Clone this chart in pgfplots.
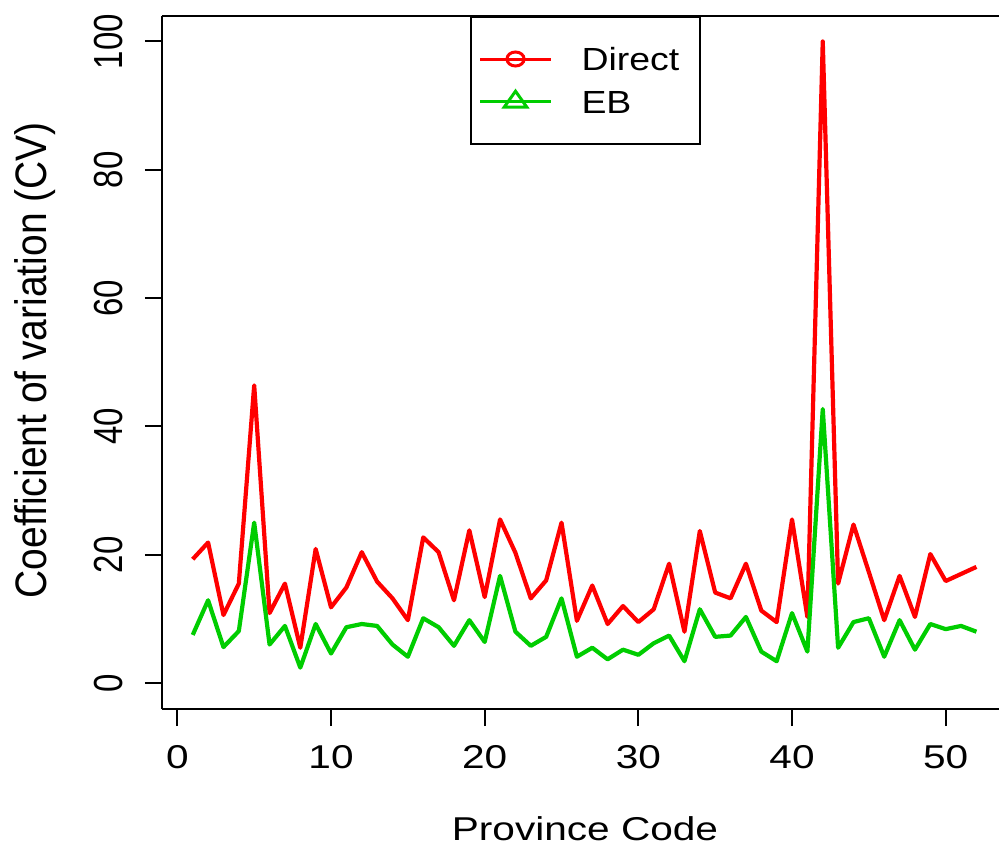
\documentclass[border=0pt]{standalone}
\usepackage{fontspec}
\setmainfont{Liberation Sans}
\usepackage{graphicx}
\usepackage{pgfplots}
\pgfplotsset{compat=1.18}
\usepackage{pgfplotstable}
\definecolor{rred}{RGB}{255,0,0}
\definecolor{rgreen}{RGB}{0,205,0}
\newcommand\f{\fontsize{16.5}{20}\selectfont}
\newcommand\fy{\fontsize{19.5}{23}\selectfont}
\newcommand\fl{\fontsize{16}{19}\selectfont}
\pgfplotstableread{
x direct eb
1 19.3 7.5
2 21.9 12.9
3 10.6 5.6
4 15.5 8.1
5 46.4 25.0
6 10.9 6.0
7 15.5 8.9
8 5.5 2.4
9 20.9 9.2
10 11.8 4.6
11 14.9 8.7
12 20.4 9.2
13 15.8 8.9
14 13.2 6.0
15 9.8 4.1
16 22.7 10.1
17 20.4 8.7
18 12.9 5.8
19 23.8 9.8
20 13.4 6.4
21 25.5 16.7
22 20.3 8.0
23 13.2 5.8
24 16.0 7.2
25 25.0 13.2
26 9.7 4.1
27 15.2 5.5
28 9.2 3.7
29 12.0 5.2
30 9.5 4.4
31 11.5 6.2
32 18.6 7.4
33 8.0 3.4
34 23.7 11.5
35 14.1 7.2
36 13.2 7.4
37 18.6 10.3
38 11.3 4.9
39 9.5 3.4
40 25.5 10.9
41 10.3 4.9
42 100.0 42.7
43 15.5 5.5
44 24.7 9.5
45 17.3 10.1
46 9.8 4.1
47 16.7 9.8
48 10.3 5.2
49 20.1 9.2
50 15.9 8.4
51 17.0 8.9
52 18.1 8.0
}\cvdata
\begin{document}
\begin{tikzpicture}
\begin{axis}[
  name=ax,
  scale only axis,
  width=418.5pt, height=346.75pt,
  xmin=-1.0, xmax=53.47, ymin=-4.05, ymax=104.05,
  axis x line=box, axis y line=left,
  axis line style={-, line width=1pt, black},
  xtick={0,10,...,50}, ytick={0,20,...,100},
  xtick pos=left, ytick pos=left,
  xticklabel pos=left, yticklabel pos=left,
  tick align=outside,
  major tick length=8.5pt,
  tick style={line width=1pt, black},
  /pgf/number format/assume math mode=true,
  tick label style={font=\f},
  xticklabel style={xscale=1.23},
  yticklabel style={rotate=90, anchor=south, yscale=1.23},
  xticklabel shift=6pt,
  yticklabel shift=6.5pt,
  xlabel={Province Code},
  ylabel={Coefficient of variation (CV)},
  xlabel style={font=\f, at={(axis description cs:0.5054,-0.1889)}, anchor=base, xscale=1.23},
  ylabel style={font=\fy, at={(axis description cs:-0.138,0.503)}, anchor=base, yscale=1.13},
  legend style={at={(axis description cs:0.5054,1)}, anchor=north, draw=black, line width=1pt,
    inner xsep=4pt, inner ysep=15.5pt, row sep=9.6pt, column sep=14.5pt, font=\fl,
    nodes={inner sep=0pt, text height=11.5pt, text depth=0pt}},
  legend cell align=left,
]
\addlegendimage{legend image code/.code={
  \draw[rred, line width=1.5pt] (0pt,0pt) -- (35.5pt,0pt);
  \draw[rred, line width=1.5pt] (17.75pt,0pt) ellipse [x radius=4.3pt, y radius=3.5pt];}}
\addlegendentry{\makebox[55pt][l]{\scalebox{1.17}[1]{Direct}}}
\addlegendimage{legend image code/.code={
  \draw[rgreen, line width=1.5pt] (0pt,0pt) -- (35.5pt,0pt);
  \draw[rgreen, line width=1.5pt, line join=miter] (17.75pt,5.3pt) -- (23.4pt,-2.65pt) -- (12.1pt,-2.65pt) -- cycle;}}
\addlegendentry{\makebox[55pt][l]{\scalebox{1.17}[1]{EB}}}
\addplot[rred, line width=2.1pt, line join=round, forget plot] table[x=x,y=direct]{\cvdata};
\addplot[rgreen, line width=2.1pt, line join=round, forget plot] table[x=x,y=eb]{\cvdata};
\end{axis}
\pgfresetboundingbox
\path (ax.south west) ++(-81pt,-69.5pt) rectangle ([yshift=7.75pt]ax.north east);
\end{tikzpicture}
\end{document}
